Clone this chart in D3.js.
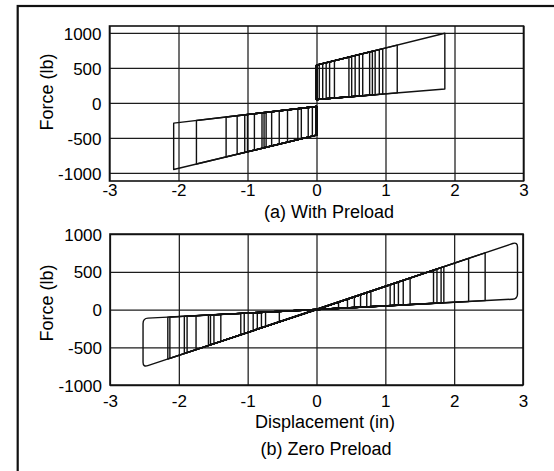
<!DOCTYPE html>
<html>
<head>
<meta charset="utf-8">
<script src="https://cdn.jsdelivr.net/npm/d3@7"></script>
<style>
  html, body { margin: 0; padding: 0; background: #fff; }
  svg { display: block; }
  text { font-family: "Liberation Sans", Arial, Helvetica, sans-serif; fill: #000; }
</style>
</head>
<body>
<svg id="chart" width="554" height="471"></svg>
<script>
// Axis ticks shared by both panels
const xTicks = [-3, -2, -1, 0, 1, 2, 3];
const yTicks = [-1000, -500, 0, 500, 1000];

// (a) With preload: loop amplitudes (in) and envelope edges as [displacement, force] end points
const preloadPosAmps  = [0.04, 0.09, 0.14, 0.19, 0.26, 0.47, 0.51, 0.56, 0.62, 0.67, 0.77, 0.81, 0.85, 0.91, 0.96, 1.17, 1.86];
const preloadPosInner = [[0, 50], [1.86, 199]];
const preloadPosOuter = [[0, 540], [1.86, 996]];
const preloadNegAmps  = [-0.06, -0.12, -0.22, -0.27, -0.42, -0.54, -0.65, -0.73, -0.76, -0.79, -0.90, -1.00, -1.04, -1.15, -1.31, -1.74, -2.07];
const preloadNegInner = [[0, -50], [-2.07, -288]];
const preloadNegOuter = [[0, -460], [-2.07, -951]];

// (b) Zero preload
const zeroPosAmps  = [0.32, 0.45, 0.55, 0.64, 0.73, 0.79, 1.07, 1.13, 1.19, 1.26, 1.36, 1.70, 1.75, 1.81, 1.85, 2.21, 2.45, 2.92];
const zeroPosInner = [[0, 0], [2.92, 140]];
const zeroPosOuter = [[0, 0], [2.92, 895]];
const zeroNegAmps  = [-0.54, -0.74, -0.80, -0.86, -0.92, -1.05, -1.10, -1.39, -1.49, -1.54, -1.57, -1.75, -1.88, -1.92, -2.13, -2.16, -2.52];
const zeroNegInner = [[0, 0], [-2.52, -118]];
const zeroNegOuter = [[0, 0], [-2.52, -765]];

const svg = d3.select("#chart");
const INK = "#111";

// outer box of the figure
svg.append("rect")
  .attr("x", 17.7).attr("y", 6).attr("width", 700).attr("height", 700)
  .attr("fill", "none").attr("stroke", INK).attr("stroke-width", 2.2);

// force at displacement d along a straight envelope edge
function edgeAt(edge, d) {
  const [[x0, y0], [x1, y1]] = edge;
  return y0 + (y1 - y0) * (d - x0) / (x1 - x0);
}

// closed polygon in pixels with optional rounded corners
function roundedPath(pts, radii) {
  const n = pts.length;
  let d = "";
  for (let i = 0; i < n; i++) {
    const p = pts[i], r = radii[i];
    const cmd = i === 0 ? "M" : "L";
    if (!r) { d += cmd + p[0] + "," + p[1]; continue; }
    const prev = pts[(i - 1 + n) % n], next = pts[(i + 1) % n];
    const toward = (q) => {
      const dx = q[0] - p[0], dy = q[1] - p[1], L = Math.hypot(dx, dy) || 1;
      const k = Math.min(r, L / 2) / L;
      return [p[0] + dx * k, p[1] + dy * k];
    };
    const a = toward(prev), b = toward(next);
    d += cmd + a[0] + "," + a[1] + "Q" + p[0] + "," + p[1] + " " + b[0] + "," + b[1];
  }
  return d + "Z";
}

function panel(cfg) {
  const { x, y, top, bottom, left, right } = cfg;
  const g = svg.append("g");

  // vertical grid + x tick labels
  const gx = g.append("g")
    .attr("transform", `translate(0,${bottom})`)
    .call(d3.axisBottom(x).tickValues(xTicks).tickSize(-(bottom - top))
      .tickPadding(cfg.xPad).tickFormat(d => String(d)))
    .attr("font-size", 17);
  gx.select(".domain").remove();
  gx.selectAll("line").attr("stroke", "#1c1c1c").attr("stroke-width", 1.25);
  gx.selectAll("text").attr("fill", "#000");

  // horizontal grid + y tick labels
  const gy = g.append("g")
    .attr("transform", `translate(${left},0)`)
    .call(d3.axisLeft(y).tickValues(yTicks).tickSize(-(right - left))
      .tickPadding(8).tickFormat(d => String(d)))
    .attr("font-size", 17);
  gy.select(".domain").remove();
  gy.selectAll("line").attr("stroke", "#1c1c1c").attr("stroke-width", 1.25);
  gy.selectAll("text").attr("fill", "#000").attr("dy", "0.36em");

  // plot frame
  g.append("rect")
    .attr("x", left).attr("y", top).attr("width", right - left).attr("height", bottom - top)
    .attr("fill", "none").attr("stroke", INK).attr("stroke-width", 1.6);

  // hysteresis loops
  cfg.families.forEach(f => {
    const maxAmp = d3.max(f.amps, a => Math.abs(a));
    g.append("g").selectAll("path")
      .data(f.amps)
      .join("path")
      .attr("d", a => {
        const pts = [
          [0, edgeAt(f.inner, 0)],
          [a, edgeAt(f.inner, a)],
          [a, edgeAt(f.outer, a)],
          [0, edgeAt(f.outer, 0)]
        ].map(([dx, fy]) => [x(dx), y(fy)]);
        const r = (Math.abs(a) === maxAmp) ? cfg.cornerRadius : 0;
        return roundedPath(pts, [0, r, r, 0]);
      })
      .attr("fill", "none")
      .attr("stroke", INK)
      .attr("stroke-width", 1.4)
      .attr("stroke-linejoin", "round");
  });

  // axis title on the left
  g.append("text")
    .attr("transform", `translate(${cfg.titleX},${cfg.titleY}) rotate(-90)`)
    .attr("text-anchor", "middle")
    .attr("font-size", 18)
    .text("Force (lb)");
}

// (a) With Preload
const xA = d3.scaleLinear([-3, 3], [109.5, 523.5]);
const yA = d3.scaleLinear([-1115, 1100], [181, 26]);
panel({
  x: xA, y: yA, top: 26, bottom: 181, left: 109.5, right: 523.5,
  xPad: 3, cornerRadius: 0, titleX: 53, titleY: 92,
  families: [
    { amps: preloadPosAmps, inner: preloadPosInner, outer: preloadPosOuter },
    { amps: preloadNegAmps, inner: preloadNegInner, outer: preloadNegOuter }
  ]
});

// (b) Zero Preload
const xB = d3.scaleLinear([-3, 3], [110, 523]);
const yB = d3.scaleLinear([-1000, 1000], [385, 234]);
panel({
  x: xB, y: yB, top: 234, bottom: 385, left: 110, right: 523,
  xPad: 10, cornerRadius: 5, titleX: 53, titleY: 303,
  families: [
    { amps: zeroPosAmps, inner: zeroPosInner, outer: zeroPosOuter },
    { amps: zeroNegAmps, inner: zeroNegInner, outer: zeroNegOuter }
  ]
});

// captions
svg.append("text").attr("x", 329).attr("y", 218).attr("text-anchor", "middle")
  .attr("font-size", 18).text("(a) With Preload");
svg.append("text").attr("x", 325).attr("y", 428).attr("text-anchor", "middle")
  .attr("font-size", 18).text("Displacement (in)");
svg.append("text").attr("x", 326).attr("y", 455).attr("text-anchor", "middle")
  .attr("font-size", 18).text("(b) Zero Preload");
</script>
</body>
</html>
